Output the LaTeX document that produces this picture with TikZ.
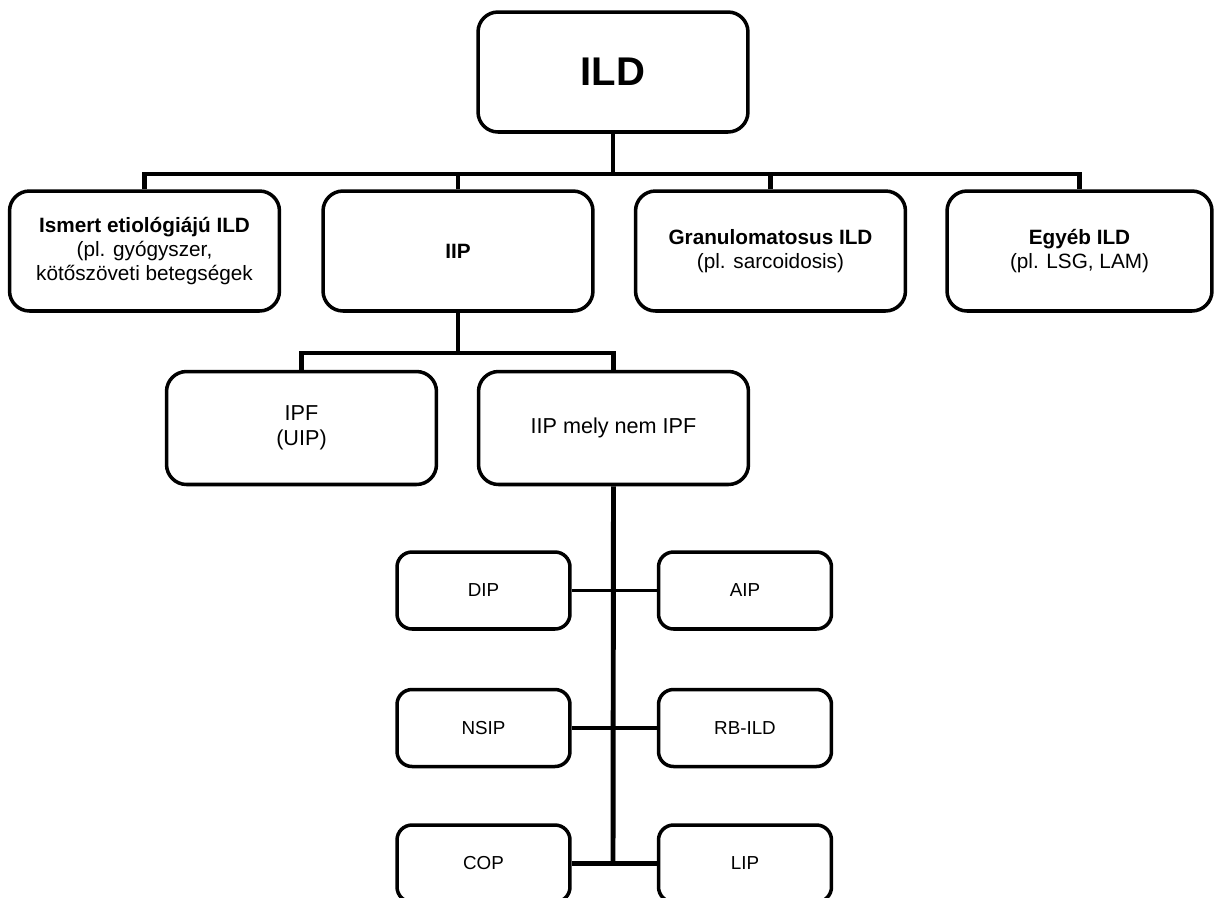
\documentclass[tikz,border=0pt]{standalone}
\usepackage{fontspec}
\setmainfont{Liberation Sans}
\begin{document}
\begin{tikzpicture}[x=0.02cm,y=-0.02cm,
  box/.style={draw=black, line width=2pt, rounded corners=0.4cm, fill=white,
    align=center, inner sep=0pt},
  bigbox/.style={box, minimum width=5.4cm, minimum height=2.4cm,
    font=\fontsize{11.8}{13.8}\selectfont},
  midbox/.style={box, minimum width=5.4cm, minimum height=2.26cm,
    font=\fontsize{12.3}{14.4}\selectfont},
  smallbox/.style={box, rounded corners=0.3cm, minimum width=3.46cm, minimum height=1.54cm,
    font=\fontsize{10.7}{12.7}\selectfont},
  link/.style={line width=2.7pt},
  twig/.style={line width=2pt}]
\useasboundingbox (0,0) rectangle (1214,897);

% root
\node[box, minimum width=5.4cm, minimum height=2.4cm,
      font=\fontsize{22.8}{26}\selectfont\bfseries] (ild) at (613,72) {ILD};

% first level
\node[bigbox] (known) at (144.5,251) {\textbf{Ismert etiológiájú ILD}\\(pl. gyógyszer,\\kötőszöveti betegségek};
\node[bigbox] (iip) at (458,251) {\textbf{IIP}};
\node[bigbox] (gran) at (770.5,251) {\textbf{Granulomatosus ILD}\\(pl. sarcoidosis)};
\node[bigbox, minimum width=5.3cm] (other) at (1079.5,251) {\textbf{Egyéb ILD}\\(pl. LSG, LAM)};

% second level
\node[midbox] (ipf) at (301.5,428) {IPF\\(UIP)};
\node[midbox] (nonipf) at (613.5,428) {IIP mely nem IPF};

% third level
\node[smallbox] (dip) at (483.5,590.5) {DIP};
\node[smallbox] (aip) at (745,590.5) {AIP};
\node[smallbox] (nsip) at (483.5,728) {NSIP};
\node[smallbox] (rbild) at (745,728) {RB-ILD};
\node[smallbox] (cop) at (483.5,863.5) {COP};
\node[smallbox] (lip) at (745,863.5) {LIP};

% bus lines
\coordinate (bus1) at (613,174);
\coordinate (bus2) at (458,353);
\coordinate (trunkend) at (613,863.5);

\draw[link] (ild.south) -- (bus1);
\draw[link] (known.north) -- (known.north |- bus1) -- (other.north |- bus1) -- (other.north);
\draw[link] (iip.north) -- (iip.north |- bus1);
\draw[link] (gran.north) -- (gran.north |- bus1);

\draw[link] (iip.south) -- (bus2);
\draw[link] (ipf.north) -- (ipf.north |- bus2) -- (nonipf.north |- bus2) -- (nonipf.north);

\draw[link, line width=2.8pt] (nonipf.south) -- (trunkend);
\draw[twig] (dip.east) -- (aip.west);
\draw[twig] (nsip.east) -- (rbild.west);
\draw[link] (cop.east) -- (lip.west);
\end{tikzpicture}
\end{document}
